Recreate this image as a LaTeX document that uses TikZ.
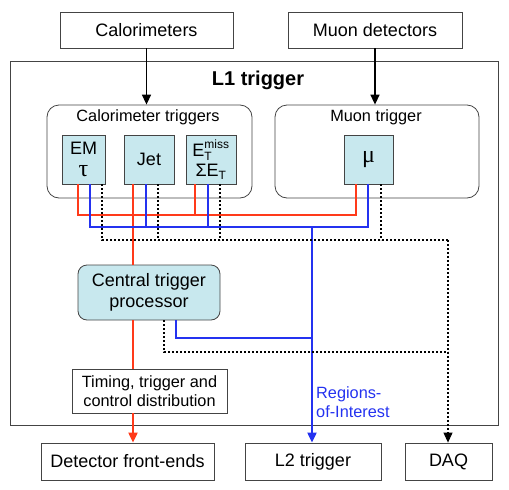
\documentclass[tikz,border=0pt]{standalone}
\usepackage{fontspec}
\setmainfont{Liberation Sans}
\newfontfamily\grk{Liberation Serif}
\usetikzlibrary{arrows.meta}
\definecolor{rline}{HTML}{FF3A1A}
\definecolor{bline}{HTML}{2432F0}
\definecolor{cfill}{HTML}{C8E8EE}
\definecolor{edge}{HTML}{444444}
\begin{document}
\begin{tikzpicture}[x=1pt,y=-1pt,
  box/.style={draw=edge, line width=0.8pt, inner sep=0pt, align=center, font=\fontsize{18}{21}\selectfont},
  rbox/.style={box, rounded corners=12pt},
  cbox/.style={box, fill=cfill},
  lbl/.style={inner sep=0pt, font=\fontsize{16.3}{19}\selectfont},
  redl/.style={draw=rline, line width=2pt},
  bluel/.style={draw=bline, line width=2pt},
  dotl/.style={draw=black, line width=2pt, dash pattern=on 2pt off 2pt},
  tip/.style={-{Triangle[length=10pt,width=9pt]}},
  blk/.style={draw=black, line width=1.5pt}]
\useasboundingbox (0,0) rectangle (509,490);
% outer boxes
\node[box, minimum width=173pt, minimum height=36pt] (cal) at (146.5,30) {Calorimeters};
\node[box, minimum width=174pt, minimum height=36pt] (mdet) at (375,30) {Muon detectors};
\node[box, minimum width=488pt, minimum height=364pt] (L1) at (254,243) {};
\node[inner sep=0pt, font=\fontsize{20}{24}\selectfont\bfseries] (L1t) at (258,80) {L1 trigger};
% containers
\node[rbox, minimum width=205pt, minimum height=93pt] (calo) at (149.5,151.5) {};
\node[lbl] (calol) at (148,117) {Calorimeter triggers};
\node[rbox, minimum width=204pt, minimum height=93pt] (muon) at (377,151.5) {};
\node[lbl] (muonl) at (376,117) {Muon trigger};
% trigger boxes
\node[cbox, minimum width=43pt, minimum height=49pt] (EM) at (83.5,159.5) {EM\\[1pt]{\grk\fontsize{24}{24}\selectfont τ}};
\node[cbox, minimum width=50pt, minimum height=49pt] (Jet) at (149,159.5) {Jet};
\node[cbox, minimum width=50pt, minimum height=49pt] (Emiss) at (211,159.5)
  {$\mbox{E}^{\mbox{\fontsize{12}{12}\selectfont miss}}_{\mbox{\fontsize{12}{12}\selectfont T}}$\\[-1pt]
   $\mbox{ΣE}_{\mbox{\fontsize{12}{12}\selectfont T}}$};
\node[cbox, minimum width=49pt, minimum height=49pt] (mu) at (368.5,159.5) {\grk\fontsize{24}{24}\selectfont μ};
% central
\node[cbox, rounded corners=9pt, minimum width=142pt, minimum height=55pt] (ctp) at (149,292.5) {Central trigger\\processor};
\node[box, font=\fontsize{16.3}{19.5}\selectfont, minimum width=155pt, minimum height=44pt] (ttc) at (149.5,391) {Timing, trigger and\\control distribution};
% outputs
\node[box, minimum width=173pt, minimum height=37pt] (dfe) at (127.5,461.5) {Detector front-ends};
\node[box, minimum width=136pt, minimum height=37pt] (l2) at (313,461.5) {L2 trigger};
\node[box, minimum width=87pt, minimum height=37pt] (daq) at (448.5,461.5) {DAQ};
\node[lbl, text=bline, anchor=west, align=left] (roi) at (316,402.5) {Regions-\\of-Interest};
% input arrows
\draw[blk, tip] (cal.south) -- (cal.south |- calo.north);
\draw[blk, tip] (mdet.south) -- (mdet.south |- muon.north);
% red lines
\draw[redl] ([xshift=-5.5pt]EM.south) -- ++(0,31) -| ([xshift=-12.5pt]mu.south);
\draw[redl] ([xshift=-16pt]Emiss.south) -- ++(0,31);
\coordinate (rx) at ([xshift=-16pt]Jet.south);
\draw[redl] (rx) -- (rx |- ctp.north);
\draw[redl] (rx |- ctp.south) -- (rx |- ttc.north);
\draw[redl, tip] (rx |- ttc.south) -- (rx |- dfe.north);
% blue lines
\draw[bluel] ([xshift=6.5pt]EM.south) -- ++(0,43) -| ([xshift=-0.5pt]mu.south);
\draw[bluel] ([xshift=-3pt]Jet.south) -- ++(0,43);
\draw[bluel] ([xshift=-3pt]Emiss.south) -- ++(0,43);
\coordinate (bx) at ([xshift=-1pt,yshift=-43pt]l2.north |- mu.south);
\draw[bluel, tip] (bx) -- (bx |- l2.north);
\draw[bluel] ([xshift=27pt]ctp.south) -- ++(0,18) -| (bx);
% dotted lines
\coordinate (dx) at ([xshift=-0.5pt,yshift=-56pt]daq.north |- mu.south);
\coordinate (dy) at ([xshift=-0.5pt,yshift=-32pt]daq.north |- ctp.south);
\draw[dotl] ([xshift=18.5pt]EM.south) -- ++(0,56) -- (dx);
\draw[dotl] ([xshift=9pt]Jet.south) -- ++(0,56);
\draw[dotl] ([xshift=9pt]Emiss.south) -- ++(0,56);
\draw[dotl] ([xshift=12.5pt]mu.south) -- ++(0,56);
\draw[dotl] ([xshift=15pt]ctp.south) -- ++(0,32) -- (dy);
\draw[dotl] (dx) -- ([yshift=10pt]dx |- daq.north);
\draw[blk, -{Triangle[length=10pt,width=9pt]}, line width=1pt] ([yshift=10.5pt]dx |- daq.north) -- (dx |- daq.north);
\end{tikzpicture}
\end{document}
